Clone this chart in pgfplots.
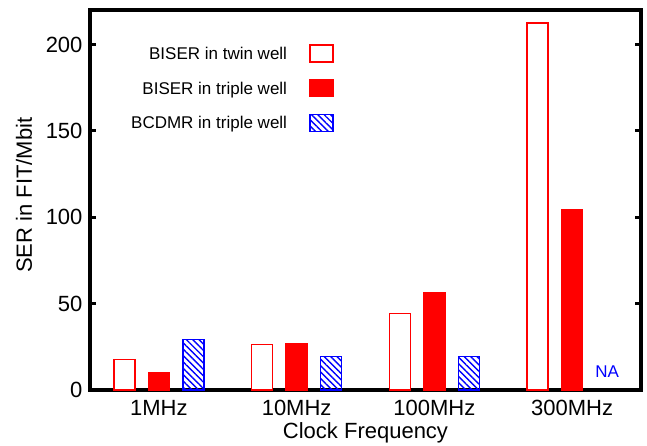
\documentclass[border=0pt]{standalone}
\usepackage{pgfplots}
\pgfplotsset{compat=1.18}
\usepackage{fontspec}
\setmainfont{Liberation Sans}
\usetikzlibrary{patterns.meta}

\definecolor{serred}{RGB}{255,0,0}
\definecolor{serblue}{RGB}{0,0,255}

\begin{document}
\begin{tikzpicture}
\begin{axis}[
  name=ax,
  scale only axis,
  width=551pt, height=380pt,
  xmin=-0.5, xmax=3.5,
  ymin=0, ymax=220,
  axis line style={line width=3.5pt},
  xtick={0,1,2,3},
  xticklabels={1MHz,10MHz,100MHz,300MHz},
  x tick style={draw=none},
  ytick={0,50,100,150,200},
  y tick style={line width=3pt, black},
  tick align=inside,
  major tick length=6pt,
  /pgf/number format/assume math mode=true,
  tick label style={font=\fontsize{22}{26}\selectfont},
  xticklabel style={yshift=-7pt},
  yticklabel style={xshift=-4pt},
  xlabel={Clock Frequency},
  ylabel={SER in FIT/Mbit},
  label style={font=\fontsize{22}{26}\selectfont},
  xlabel style={at={(rel axis cs:0.5,-0.128)}, anchor=base},
  ylabel style={at={(rel axis cs:-0.1198,0.513)}, anchor=center},
  clip=false,
  legend plot pos=right,
  legend cell align=right,
  legend style={draw=none, fill=none, at={(rel axis cs:0.448,0.916)}, anchor=north east,
    font=\fontsize{17}{20}\selectfont, row sep=16pt,
    /tikz/every odd column/.style={column sep=20pt}},
  legend image code/.code={\draw[#1] (0pt,-8pt) rectangle (23pt,9pt);},
]
% BISER in twin well
\addplot[ybar, bar width=21pt, bar shift=-34.5pt, draw=serred, line width=1.6pt, fill=white]
  coordinates {(0,17.7) (1,26.4) (2,44.3) (3,212.3)};
\addlegendentry{BISER in twin well}
% BISER in triple well
\addplot[ybar, bar width=21pt, bar shift=0pt, draw=serred, line width=1.6pt, fill=serred]
  coordinates {(0,10.2) (1,27.0) (2,56.2) (3,104.6)};
\addlegendentry{BISER in triple well}
% BCDMR in triple well (no result at 300MHz)
\addplot[ybar, bar width=21pt, bar shift=34.5pt, draw=serblue, line width=1.6pt,
  pattern={Lines[angle=-45, distance=4.5pt, line width=1.4pt]}, pattern color=serblue]
  coordinates {(0,29.3) (1,19.3) (2,19.3)};
\addlegendentry{BCDMR in triple well}
\node[text=serblue, font=\fontsize{17}{20}\selectfont, anchor=base] at ([xshift=35pt, yshift=12pt]axis cs:3,0) {NA};
\coordinate (bbsw) at (rel axis cs:-0.16334,-0.14737);
\coordinate (bbne) at (rel axis cs:1.01089,1.02632);
\end{axis}
\pgfresetboundingbox
\path[use as bounding box] (bbsw) rectangle (bbne);
\end{tikzpicture}
\end{document}
